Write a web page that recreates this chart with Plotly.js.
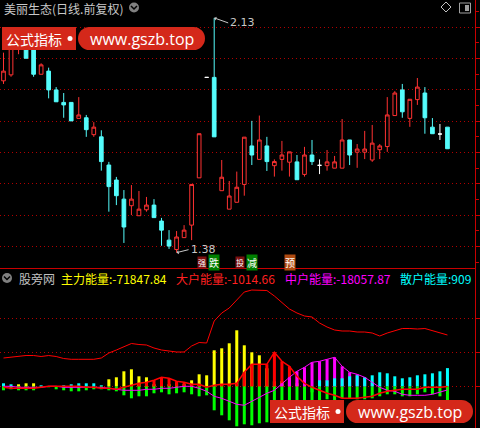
<!DOCTYPE html>
<html><head><meta charset="utf-8">
<script src="https://cdn.plot.ly/plotly-3.0.1.min.js"></script>
<style>html,body{margin:0;padding:0;background:#000;}#chart{width:480px;height:428px;}</style>
</head><body><div id="chart"></div>
<script>
// ---- price data (daily candles) ----
const openP=[1.929,1.948,2.030,2.070,2.053,1.950,1.960,1.900,1.860,1.860,1.809,1.811,1.757,1.750,1.660,1.612,1.551,1.530,1.498,1.517,1.532,1.481,1.420,1.390,1.428,1.468,1.619,1.940,1.940,1.578,1.519,1.541,1.598,1.721,1.678,1.721,1.658,1.678,1.669,1.670,1.630,1.692,1.659,1.658,1.650,1.650,1.740,1.701,1.701,1.676,1.709,1.719,1.818,1.900,1.809,1.869,1.890,1.781,1.759,1.781];
const highP=[2.019,2.050,2.049,2.080,2.060,1.985,1.971,1.909,1.890,1.860,1.877,1.820,1.797,1.771,1.670,1.622,1.580,1.596,1.577,1.558,1.551,1.491,1.452,1.449,1.468,1.598,1.760,1.940,2.130,1.676,1.609,1.639,1.749,1.801,1.818,1.750,1.678,1.737,1.702,1.692,1.718,1.740,1.678,1.708,1.689,1.807,1.740,1.727,1.769,1.788,1.727,1.877,1.896,1.919,1.870,1.938,1.909,1.810,1.791,1.781];
const lowP=[1.919,1.942,2.014,2.001,1.942,1.950,1.873,1.862,1.811,1.801,1.809,1.750,1.750,1.642,1.511,1.532,1.411,1.500,1.498,1.511,1.492,1.402,1.392,1.380,1.428,1.420,1.619,1.940,1.750,1.578,1.519,1.541,1.562,1.660,1.678,1.641,1.623,1.642,1.623,1.613,1.623,1.660,1.631,1.642,1.650,1.650,1.660,1.651,1.679,1.670,1.679,1.702,1.818,1.811,1.782,1.852,1.760,1.760,1.740,1.712];
const closeP=[1.960,2.033,2.040,2.001,1.950,1.980,1.900,1.862,1.852,1.801,1.820,1.773,1.781,1.671,1.591,1.562,1.462,1.551,1.519,1.532,1.492,1.452,1.401,1.430,1.452,1.598,1.760,1.940,1.750,1.621,1.561,1.589,1.749,1.692,1.740,1.671,1.671,1.692,1.702,1.613,1.692,1.671,1.659,1.670,1.670,1.740,1.692,1.711,1.711,1.730,1.721,1.820,1.890,1.830,1.870,1.909,1.811,1.760,1.759,1.712];

// ---- indicator data (股旁网 energy) ----
const zhuli=[-20000,-15000,10000,15000,15000,-5000,-5000,-15000,-20000,-25000,-25000,-20000,-15000,-15000,35000,45000,75000,85000,50000,45000,10000,5000,10000,15000,10000,30000,60000,55000,180000,190000,215000,280000,205000,170000,155000,90000,25000,25000,25000,15000,10000,-85000,-75000,-65000,-70000,-60000,-60000,-65000,-65000,-60000,-50000,-40000,-40000,-50000,-50000,-40000,-30000,-40000,-50000,-71847.84];
const dahu=[-5000,-10000,-10000,-10000,-10000,-5000,0,0,0,0,0,-5000,-5000,-10000,-10000,-15000,-5000,5000,15000,20000,30000,45000,40000,25000,20000,10000,10000,-5000,5000,10000,10000,15000,70000,110000,110000,110000,170000,125000,100000,50000,15000,-5000,-20000,-35000,-45000,-60000,-60000,-60000,-55000,-50000,-35000,-25000,-20000,-15000,-15000,-15000,-5000,-5000,-5000,-1014.66];
const zhonghu=[0,0,-5000,-5000,-5000,-5000,0,0,-5000,-5000,-5000,-5000,-5000,-5000,-10000,-15000,-20000,-20000,-20000,-15000,-15000,-10000,-10000,-5000,0,0,-10000,-25000,-50000,-60000,-75000,-90000,-95000,-75000,-55000,-35000,-20000,15000,45000,75000,95000,120000,125000,135000,145000,100000,70000,60000,45000,20000,-5000,-20000,-25000,-40000,-45000,-45000,-45000,-40000,-30000,-18057.87];
const sanhu=[15000,10000,-20000,-20000,-20000,5000,0,0,5000,10000,15000,15000,15000,5000,-20000,-25000,-45000,-60000,-50000,-50000,-35000,-30000,-40000,-35000,-30000,-40000,-50000,-45000,-120000,-145000,-170000,-200000,-190000,-195000,-185000,-180000,-175000,-150000,-140000,-125000,-100000,-30000,30000,30000,40000,40000,50000,55000,45000,55000,70000,65000,50000,40000,45000,55000,60000,65000,75000,90920.37];
const trend=[141500,146500,149000,154000,154000,149000,154000,149000,139000,135000,135000,135000,135000,141500,166500,181500,196500,214000,209000,206500,191500,181500,176500,171500,171500,201500,219000,216500,326500,366500,391500,431500,471500,481500,481500,479000,451500,416500,386500,366500,351500,346500,316500,296500,281500,276500,276500,271500,271500,266500,251500,266500,276500,289000,289000,286500,289000,279000,266500,256500];

const headerLabels=['主力能量','大户能量','中户能量','散户能量'];
const lastVals=[zhuli[zhuli.length-1],dahu[dahu.length-1],zhonghu[zhonghu.length-1],sanhu[sanhu.length-1]];
const signals=[{pre:'强',word:'跌',day:28},{pre:'投',word:'减',day:33},{pre:'',word:'预',day:38}];

// ---- helpers ----
const idx=openP.map((_,i)=>i);
const H=428, PW=475;
const px=x=>x/PW;
const py=y=>(H-y)/H;
const sel=(arr,f)=>idx.filter(f).map(i=>arr[i]);
const notDoji=i=>openP[i]!==closeP[i];
const isDoji=i=>openP[i]===closeP[i];
const pos=a=>a.map(v=>v>0?v:0);
const neg=a=>a.map(v=>v<0?v:0);

const RED='#ff3232', CYAN='#54fcfc', AX='#c80000', GRID='#b00000';
const CJK='"Noto Sans CJK SC", "Noto Sans", sans-serif';

const traces=[
 {type:'candlestick',x:sel(idx,notDoji),open:sel(openP,notDoji),high:sel(highP,notDoji),low:sel(lowP,notDoji),close:sel(closeP,notDoji),
  xaxis:'x',yaxis:'y',hoverinfo:'skip',showlegend:false,
  increasing:{line:{color:RED,width:1},fillcolor:'#000000'},
  decreasing:{line:{color:CYAN,width:1},fillcolor:CYAN}},
 {type:'candlestick',x:sel(idx,isDoji),open:sel(openP,isDoji),high:sel(highP,isDoji),low:sel(lowP,isDoji),close:sel(closeP,isDoji),
  xaxis:'x',yaxis:'y',hoverinfo:'skip',showlegend:false,
  increasing:{line:{color:'#ffffff',width:1},fillcolor:'#ffffff'},
  decreasing:{line:{color:'#ffffff',width:1},fillcolor:'#ffffff'}},
];
const bar=(y,c)=>({type:'bar',x:idx,y:y,width:0.4,marker:{color:c,line:{width:0}},xaxis:'x2',yaxis:'y2',hoverinfo:'skip',showlegend:false});
traces.push(bar(neg(zhuli),'#00ff00'));
traces.push(bar(neg(sanhu),'#00ff00'));
traces.push(bar(pos(zhuli),'#ffff00'));
traces.push(bar(pos(dahu),'#ff0000'));
traces.push(bar(pos(zhonghu),'#ff00ff'));
traces.push(bar(pos(sanhu),'#00ffff'));
const line=(y,c,w)=>({type:'scatter',mode:'lines',x:idx,y:y,line:{color:c,width:w},xaxis:'x2',yaxis:'y2',hoverinfo:'skip',showlegend:false});
traces.push(line(trend,'#ff0000',1));
traces.push(line(zhonghu,'#ff00ff',1));
traces.push(line(dahu,'#ff0000',1.5));

const xr=[-0.465,62.66];
const shapes=[], annotations=[];

// watermark logo
function watermark(x0,y0){
  const h=23, r=h/2, fill='rgb(212,40,26)';
  shapes.push({type:'rect',xref:'paper',yref:'paper',x0:px(x0),x1:px(x0+74),y0:py(y0+h),y1:py(y0),fillcolor:fill,line:{width:0},layer:'above'});
  shapes.push({type:'rect',xref:'paper',yref:'paper',x0:px(x0+76+r),x1:px(x0+203-r),y0:py(y0+h),y1:py(y0),fillcolor:fill,line:{width:0},layer:'above'});
  shapes.push({type:'circle',xref:'paper',yref:'paper',x0:px(x0+76),x1:px(x0+76+h),y0:py(y0+h),y1:py(y0),fillcolor:fill,line:{width:0},layer:'above'});
  shapes.push({type:'circle',xref:'paper',yref:'paper',x0:px(x0+203-h),x1:px(x0+203),y0:py(y0+h),y1:py(y0),fillcolor:fill,line:{width:0},layer:'above'});
  shapes.push({type:'circle',xref:'paper',yref:'paper',x0:px(x0+65.5),x1:px(x0+70.5),y0:py(y0+r+2.5),y1:py(y0+r-2.5),fillcolor:'#ffffff',line:{width:0},layer:'above'});
  annotations.push({xref:'paper',yref:'paper',x:px(x0+2),y:py(y0+r),xanchor:'left',yanchor:'middle',showarrow:false,text:'公式指标',font:{family:CJK,size:14,color:'#ffffff'}});
  annotations.push({xref:'paper',yref:'paper',x:px(x0+140),y:py(y0+r),xanchor:'center',yanchor:'middle',showarrow:false,text:'www.gszb.top',font:{family:'"Open Sans", sans-serif',size:16,color:'#ffffff'}});
}
watermark(2,27);
watermark(270,400);

// dropdown icons
function dropIcon(cx,cy){
  shapes.push({type:'circle',xref:'paper',yref:'paper',x0:px(cx-5),x1:px(cx+5),y0:py(cy+5),y1:py(cy-5),fillcolor:'#808080',line:{width:0},layer:'above'});
  shapes.push({type:'path',xref:'paper',yref:'paper',path:`M ${px(cx-3)},${py(cy-1.5)} L ${px(cx)},${py(cy+1.5)} L ${px(cx+3)},${py(cy-1.5)}`,line:{color:'#000000',width:1.5},layer:'above'});
}
dropIcon(134,7.5);
dropIcon(7,278);
// top-right icons
shapes.push({type:'path',xref:'paper',yref:'paper',path:`M ${px(446)},${py(2)} L ${px(451)},${py(7)} L ${px(446)},${py(12)} L ${px(441)},${py(7)} Z`,line:{color:'#c0c0c0',width:1},layer:'above'});
shapes.push({type:'rect',xref:'paper',yref:'paper',x0:px(459.5),x1:px(470.5),y0:py(13),y1:py(3),line:{color:'#a0a0a0',width:1},fillcolor:'rgba(0,0,0,0)',layer:'above'});
shapes.push({type:'rect',xref:'paper',yref:'paper',x0:px(465),x1:px(469),y0:py(11),y1:py(5),line:{width:0},fillcolor:'#a0a0a0',layer:'above'});

// title
annotations.push({xref:'paper',yref:'paper',x:px(2),y:py(8),xanchor:'left',yanchor:'middle',showarrow:false,text:'美丽生态(日线.前复权)',font:{family:CJK,size:12,color:'#c8c8c8'}});
// high / low markers
const hiI=highP.indexOf(Math.max(...highP)), loI=lowP.indexOf(Math.min(...lowP));
annotations.push({x:hiI,y:highP[hiI],xref:'x',yref:'y',text:highP[hiI].toFixed(2),showarrow:true,arrowhead:1,arrowsize:0.7,arrowwidth:1,arrowcolor:'#c8c8c8',ax:14,ay:5,xanchor:'left',standoff:0,font:{family:'"DejaVu Sans", sans-serif',size:11,color:'#c8c8c8'}});
annotations.push({x:loI,y:lowP[loI],xref:'x',yref:'y',text:lowP[loI].toFixed(2),showarrow:true,arrowhead:1,arrowsize:0.7,arrowwidth:1,arrowcolor:'#c8c8c8',ax:12,ay:-3,xanchor:'left',standoff:0,font:{family:'"DejaVu Sans", sans-serif',size:11,color:'#c8c8c8'}});

// signal badges (anchored at the signal day on the x axis)
const by=py(263);
signals.forEach(s=>{
  if(s.pre){
    annotations.push({x:s.day,y:by,xref:'x',yref:'paper',xanchor:'right',yanchor:'middle',xshift:-7,showarrow:false,text:s.pre,bgcolor:'#7a1010',borderpad:0,font:{family:CJK,size:8,color:'#ffffff'}});
    annotations.push({x:s.day,y:by,xref:'x',yref:'paper',xanchor:'left',yanchor:'middle',xshift:-6,showarrow:false,text:s.word,bgcolor:'#008000',borderpad:0,font:{family:CJK,size:10,color:'#ffffff'}});
  } else {
    annotations.push({x:s.day,y:by,xref:'x',yref:'paper',xanchor:'center',yanchor:'middle',xshift:1,showarrow:false,text:s.word,bgcolor:'#b04a10',borderpad:0,font:{family:CJK,size:10,color:'#ffffff'}});
  }
});

// lower header
annotations.push({xref:'paper',yref:'paper',x:px(17),y:py(278),xanchor:'left',yanchor:'middle',showarrow:false,text:'股旁网',font:{family:CJK,size:12,color:'#c0c0c0'}});
const hx=[59,174,283,398], hc=['#ffff00','#ff2020','#ff00ff','#00ffff'];
headerLabels.forEach((lab,k)=>{
  let t=lab+':'+lastVals[k].toFixed(2);
  if(k===3) t=t.slice(0,8);
  annotations.push({xref:'paper',yref:'paper',x:px(hx[k]),y:py(278),xanchor:'left',yanchor:'middle',showarrow:false,text:t,font:{family:CJK,size:12,color:hc[k]}});
});

const layout={
 width:480,height:428,margin:{l:0,r:5,t:0,b:0},
 paper_bgcolor:'#000000',plot_bgcolor:'#000000',showlegend:false,
 barmode:'overlay',boxgap:0.3,
 xaxis:{domain:[0,1],range:xr,anchor:'y',showgrid:false,zeroline:false,showticklabels:false,ticks:'',showline:true,linecolor:AX,linewidth:1,rangeslider:{visible:false},fixedrange:true},
 yaxis:{domain:[py(268),1],range:[1.331,2.1872],side:'right',showline:true,linecolor:AX,linewidth:1,ticks:'outside',ticklen:4,tickcolor:AX,
   tickvals:[1.4,1.5,1.6,1.7,1.8,1.9,2.0,2.1],showticklabels:false,showgrid:true,gridcolor:GRID,griddash:'1px,3px',gridwidth:1,zeroline:false,
   minor:{tickvals:[1.35,1.45,1.55,1.65,1.75,1.85,1.95,2.05,2.15],ticks:'outside',ticklen:3,tickcolor:AX,showgrid:false},fixedrange:true},
 xaxis2:{domain:[0,1],range:xr,anchor:'y2',showgrid:false,zeroline:false,showticklabels:false,ticks:'',showline:false,fixedrange:true},
 yaxis2:{domain:[0,py(269)],range:[-208500,586500],side:'right',anchor:'x2',showline:true,linecolor:AX,linewidth:1,ticks:'outside',ticklen:4,tickcolor:AX,
   tickvals:[0,170000,340000],showticklabels:false,showgrid:true,gridcolor:GRID,griddash:'1px,3px',gridwidth:1,zeroline:false,fixedrange:true},
 shapes:shapes,annotations:annotations
};
Plotly.newPlot('chart',traces,layout,{displayModeBar:false,staticPlot:true});
</script></body></html>
